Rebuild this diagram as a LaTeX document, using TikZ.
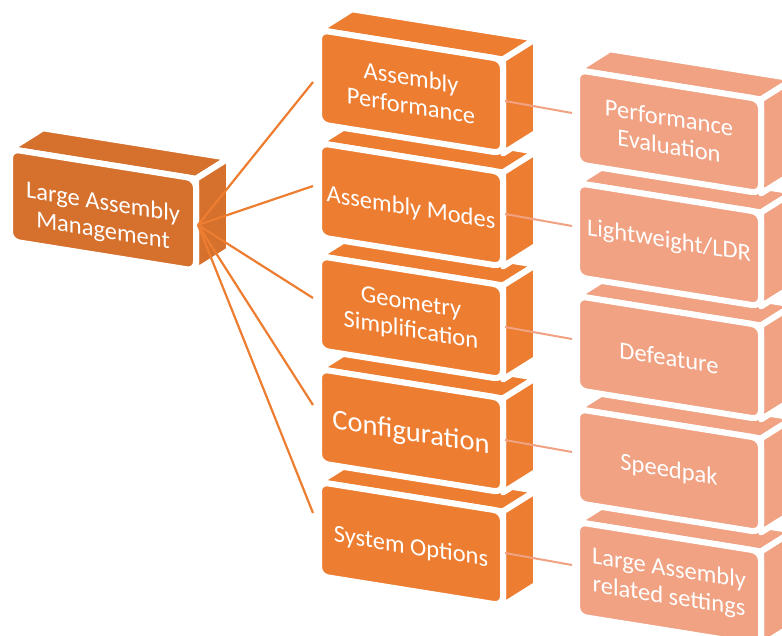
\documentclass[tikz,border=0pt]{standalone}
\usepackage{fontspec}
\setmainfont{Carlito}
\definecolor{rootorange}{HTML}{D5702D}
\definecolor{midorange}{HTML}{ED7D31}
\definecolor{leafsalmon}{HTML}{F0A283}
\tikzset{
  face/.style={draw=white, line width=6pt, line join=round},
  slabtext/.style={text=white, align=center, font=\fontsize{24.5}{28}\selectfont, inner sep=0pt},
  trunk/.style={draw=midorange, line width=2.2pt},
  twig/.style={draw=leafsalmon, line width=2pt},
}
% A sheared 3D slab: #1 node name, #2 left x, #3 top y, #4 width, #5 height,
% #6 colour, #7 text nudge (down), #8 label
\newcommand\slab[8]{%
  \begin{scope}[shift={(#2,#3)}, yslant=-0.16]
    \path[face, fill=#6] (0,0) -- (#4,0) -- ++(33,-26) -- ++(-#4,0) -- cycle;
    \path[face, fill=#6] (#4,0) -- ++(33,-26) -- ++(0,#5) -- (#4,#5) -- cycle;
    \path[face, fill=#6, rounded corners=9pt] (0,0) rectangle (#4,#5);
    \node[slabtext, transform shape] (#1) at ({#4/2},{#5/2+#7}) {#8};
  \end{scope}}

\begin{document}
\begin{tikzpicture}[x=1pt,y=-1pt]
\useasboundingbox (0,0) rectangle (782,635);
\clip (0,0) rectangle (782,635);

% right column
\slab{settings}{577}{522}{184}{94}{leafsalmon}{0}{Large Assembly\\related settings}
\slab{speedpak}{577}{409}{184}{94}{leafsalmon}{0}{Speedpak}
\slab{defeature}{577}{296}{184}{94}{leafsalmon}{0}{Defeature}
\slab{ldr}{577}{183}{184}{94}{leafsalmon}{-3}{Lightweight/LDR}
\slab{evaluation}{577}{70}{184}{94}{leafsalmon}{0}{Performance\\Evaluation}

% middle column
\slab{options}{319}{482}{184}{94}{midorange}{4}{System Options}
\slab{config}{319}{369}{184}{94}{midorange}{3}{\fontsize{28.5}{30}\selectfont Configuration}
\slab{geometry}{319}{256}{184}{94}{midorange}{0}{Geometry\\Simplification}
\slab{modes}{319}{143}{184}{94}{midorange}{4}{Assembly Modes}
\slab{performance}{319}{30}{184}{94}{midorange}{0}{Assembly\\Performance}

% root
\slab{root}{10}{149}{186}{92}{rootorange}{8}{Large Assembly\\Management}

% connector end points
\coordinate (hub) at (198,225);
\coordinate (performance-in) at (313,82);
\coordinate (modes-in) at (313,186);
\coordinate (geometry-in) at (313,298);
\coordinate (config-in) at (313,405);
\coordinate (options-in) at (313,513);

\coordinate (performance-out) at (505,101);
\coordinate (modes-out) at (505,214);
\coordinate (geometry-out) at (505,327);
\coordinate (config-out) at (505,440);
\coordinate (options-out) at (505,553);

\coordinate (evaluation-in) at (572,113);
\coordinate (ldr-in) at (572,226);
\coordinate (defeature-in) at (572,339);
\coordinate (speedpak-in) at (572,452);
\coordinate (settings-in) at (572,565);

\foreach \m in {performance,modes,geometry,config,options}
  \draw[trunk] (hub) -- (\m-in);

\draw[twig] (performance-out) -- (evaluation-in);
\draw[twig] (modes-out) -- (ldr-in);
\draw[twig] (geometry-out) -- (defeature-in);
\draw[twig] (config-out) -- (speedpak-in);
\draw[twig] (options-out) -- (settings-in);
\end{tikzpicture}
\end{document}
